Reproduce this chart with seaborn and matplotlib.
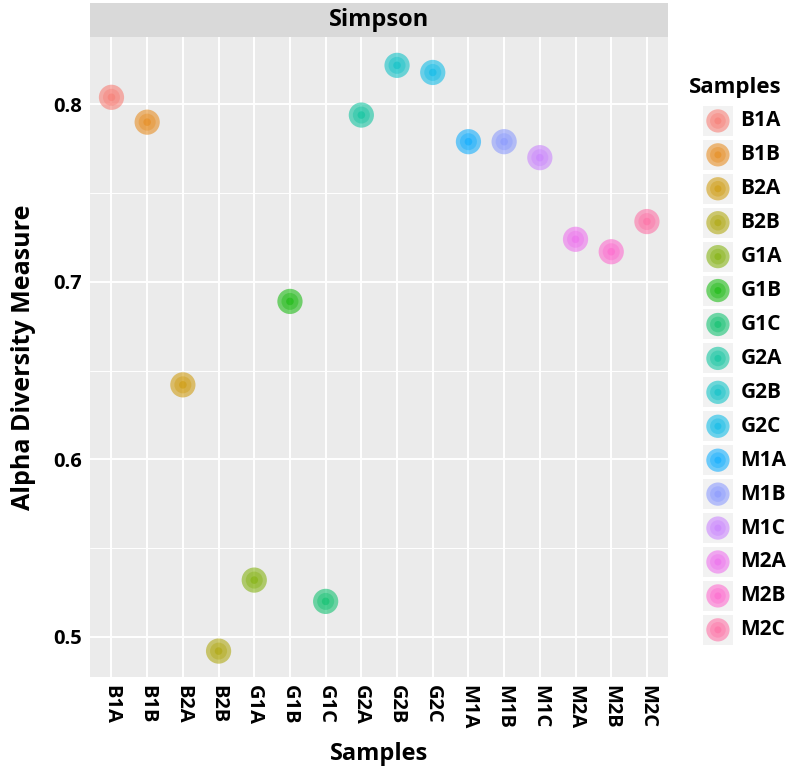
"""Simpson alpha diversity per sample, ggplot-like facet look."""

import matplotlib.pyplot as plt
import pandas as pd
import seaborn as sns
from matplotlib.ticker import MultipleLocator

samples = ["B1A", "B1B", "B2A", "B2B", "G1A", "G1B", "G1C", "G2A",
           "G2B", "G2C", "M1A", "M1B", "M1C", "M2A", "M2B", "M2C"]
simpson = [0.804, 0.790, 0.642, 0.492, 0.532, 0.689, 0.520, 0.794,
           0.822, 0.818, 0.779, 0.779, 0.770, 0.724, 0.717, 0.734]
palette = ["#F8766D", "#E68613", "#CD9600", "#ABA300", "#7CAE00", "#0CB702",
           "#00BE67", "#00C19A", "#00BFC4", "#00B8E7", "#00A9FF", "#8494FF",
           "#C77CFF", "#ED68ED", "#FF61CC", "#FF68A1"]

df = pd.DataFrame({"Samples": samples, "Simpson": simpson})
colors = dict(zip(samples, palette))

# layered points: big faint disc, mid ring, small core
layers = [(330, 0.55), (150, 0.35), (30, 0.45)]

sns.set_theme(style="darkgrid")
plt.rcParams["font.family"] = ["Open Sans", "DejaVu Sans"]
plt.rcParams["text.color"] = "black"
plt.rcParams["axes.labelcolor"] = "black"

fig = plt.figure(figsize=(7.9, 7.7), dpi=100)
ax = fig.add_axes([0.114, 0.121, 0.732, 0.831])
ax.set_facecolor("#EBEBEB")

for size, alpha in layers:
    sns.scatterplot(data=df, x="Samples", y="Simpson", hue="Samples", palette=colors,
                    s=size, alpha=alpha, edgecolor="none", legend=False, ax=ax)

ax.set_xlim(-0.6, len(samples) - 0.4)
ax.set_ylim(0.4775, 0.838)
ax.yaxis.set_major_locator(MultipleLocator(0.1))
ax.yaxis.set_minor_locator(MultipleLocator(0.05))
ax.grid(which="major", color="white", linewidth=1.4)
ax.grid(which="minor", axis="y", color="white", linewidth=0.7)
for spine in ax.spines.values():
    spine.set_visible(False)

ax.tick_params(axis="both", which="major", length=3, width=1, color="#555555",
               labelsize=14.5, labelcolor="black", pad=3)
ax.tick_params(axis="both", which="minor", length=0)
ax.set_yticks([0.5, 0.6, 0.7, 0.8], ["0.5", "0.6", "0.7", "0.8"])
plt.setp(ax.get_xticklabels(), rotation=-90, fontweight="bold")
plt.setp(ax.get_yticklabels(), fontweight="bold")
ax.set_xlabel("Samples", fontsize=17, fontweight="bold", labelpad=9)
ax.set_ylabel("Alpha Diversity Measure", fontsize=18, fontweight="bold", labelpad=12)

# facet strip
strip = fig.add_axes([0.114, 0.952, 0.732, 0.044])
strip.set_facecolor("#D9D9D9")
strip.set_xticks([])
strip.set_yticks([])
for spine in strip.spines.values():
    spine.set_visible(False)
strip.text(0.5, 0.5, "Simpson", ha="center", va="center", fontsize=17,
           fontweight="bold", transform=strip.transAxes)

# legend drawn as its own small panel
lg = fig.add_axes([0.875, 0.16, 0.125, 0.705])
lg.set_facecolor("none")
lg.set_xlim(0, 1)
lg.set_ylim(len(samples) - 0.5, -0.5)
lg.axis("off")
rows = list(range(len(samples)))
lg.scatter([0.27] * len(rows), rows, marker="s", s=470, color="#F2F2F2", linewidths=0)
for size, alpha in layers:
    lg.scatter([0.27] * len(rows), rows, s=size * 0.85, c=palette, alpha=alpha, linewidths=0)
for i, name in enumerate(samples):
    lg.text(0.5, i, name, ha="left", va="center", fontsize=15, fontweight="bold")
fig.text(0.872, 0.887, "Samples", ha="left", va="center", fontsize=16, fontweight="bold")

fig.savefig("out.png", dpi=100)
